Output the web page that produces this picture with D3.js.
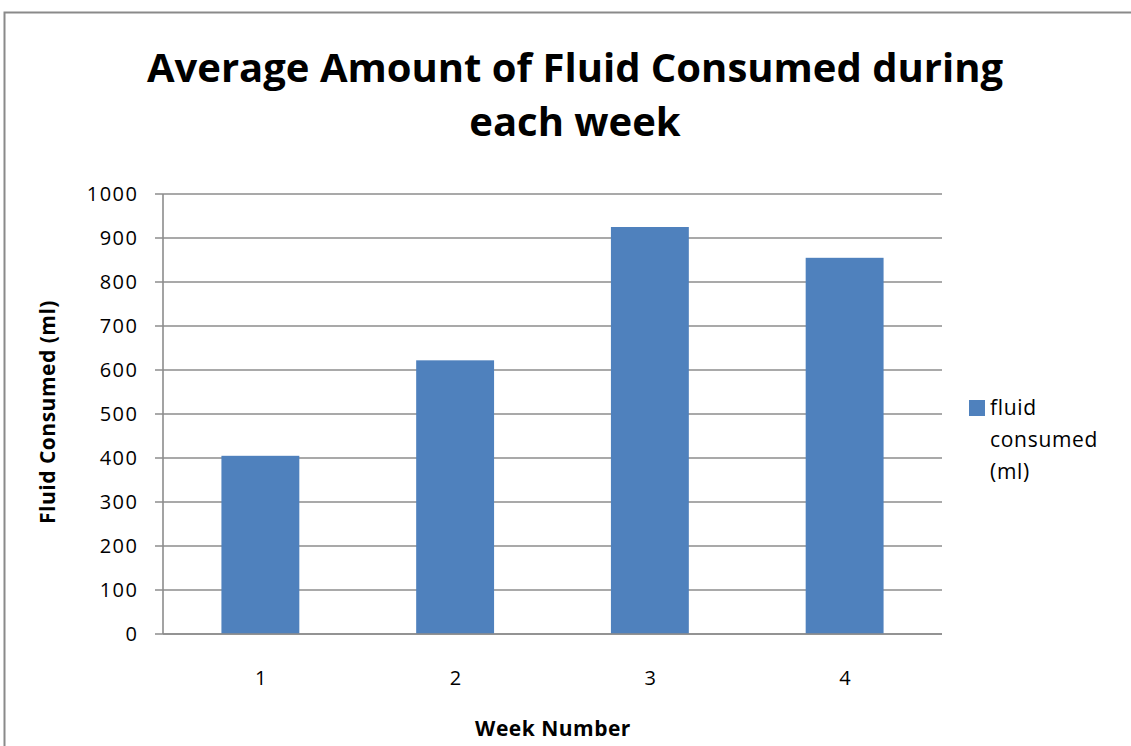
<!DOCTYPE html>
<html><head><meta charset="utf-8">
<script src="https://cdn.jsdelivr.net/npm/d3@7"></script>
<style>body{margin:0;background:#fff;}svg{display:block;font-family:"Open Sans","Liberation Sans",sans-serif;}</style>
</head><body>
<svg id="c" width="1131" height="746"></svg>
<script>
const categories = ["1","2","3","4"];
const values = [405, 622, 925, 855];
const yTicks = [0,100,200,300,400,500,600,700,800,900,1000];
const seriesName = ["fluid","consumed","(ml)"];

const svg = d3.select("#c");
// outer frame
svg.append("path").attr("d","M4.5,746 V12.5 H1131").attr("fill","none").attr("stroke","#8a8a8a").attr("stroke-width",2);

const L=163, R=942, T=194, B=634;
const x = d3.scaleBand().domain(categories).range([L,R]).paddingInner(0.6).paddingOuter(0.3);
const y = d3.scaleLinear().domain([0,1000]).range([B,T]);

// gridlines
svg.append("g").selectAll("line").data(yTicks).join("line")
 .attr("x1",155).attr("x2",R).attr("y1",d=>y(d)).attr("y2",d=>y(d))
 .attr("stroke","#8c8c8c").attr("stroke-width",1.6);

// bars
svg.append("g").selectAll("rect").data(values).join("rect")
 .attr("x",(d,i)=>x(categories[i])).attr("width",x.bandwidth())
 .attr("y",d=>y(d)).attr("height",d=>B-y(d)).attr("fill","#4F81BD");

// y axis line
svg.append("line").attr("x1",L).attr("x2",L).attr("y1",T).attr("y2",B).attr("stroke","#8c8c8c").attr("stroke-width",1.6);
// x axis line
svg.append("line").attr("x1",L).attr("x2",R).attr("y1",B).attr("y2",B).attr("stroke","#8c8c8c").attr("stroke-width",1.6);

// y tick labels
svg.append("g").selectAll("text").data(yTicks).join("text")
 .attr("x",138.5).attr("y",d=>y(d)).attr("dy","0.36em").attr("text-anchor","end")
 .attr("font-size",20).attr("letter-spacing",1.5).attr("fill","#000").text(d=>d);

// x tick labels
svg.append("g").selectAll("text").data(categories).join("text")
 .attr("x",d=>x(d)+x.bandwidth()/2+1).attr("y",678).attr("dy","0.36em").attr("text-anchor","middle")
 .attr("font-size",20).attr("letter-spacing",1.5).attr("fill","#000").text(d=>d);

// title
svg.append("text").attr("x",575).attr("y",82).attr("text-anchor","middle").attr("font-size",40).attr("font-weight","bold").text("Average Amount of Fluid Consumed during");
svg.append("text").attr("x",575).attr("y",136).attr("text-anchor","middle").attr("font-size",40).attr("font-weight","bold").text("each week");

// axis titles
svg.append("text").attr("x",553).attr("y",728).attr("dy","0.36em").attr("text-anchor","middle").attr("font-size",21).attr("letter-spacing",0.5).attr("font-weight","bold").text("Week Number");
svg.append("text").attr("transform","translate(47,412) rotate(-90)").attr("dy","0.36em").attr("text-anchor","middle").attr("font-size",21).attr("letter-spacing",0.5).attr("font-weight","bold").text("Fluid Consumed (ml)");

// legend
svg.append("rect").attr("x",969).attr("y",400).attr("width",16).attr("height",16).attr("fill","#4F81BD");
svg.append("g").selectAll("text").data(seriesName).join("text")
 .attr("x",990).attr("y",(d,i)=>407+i*32).attr("dy","0.36em").attr("font-size",21).attr("letter-spacing",0.7).text(d=>d);
</script>
</body></html>
